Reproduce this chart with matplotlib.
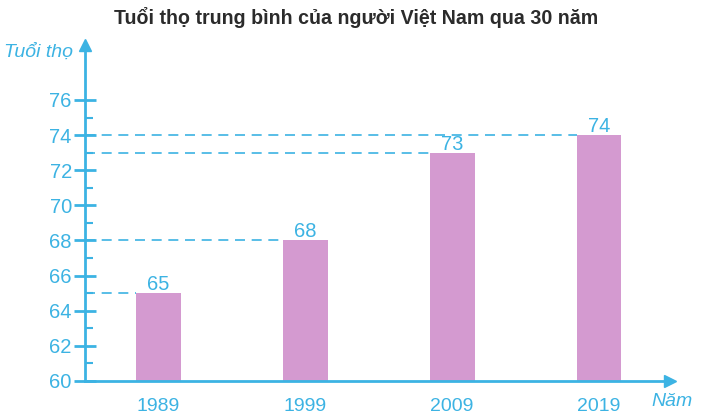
import numpy as np
import matplotlib.pyplot as plt

years = ["1989", "1999", "2009", "2019"]
life = [65, 68, 73, 74]
yticks_major = [60, 62, 64, 66, 68, 70, 72, 74, 76]

cyan = "#3cb3e3"
pink = "#d49ad0"

fig = plt.figure(figsize=(7.04, 4.18), dpi=100)
ax = fig.add_axes([85 / 704, 37 / 418, 585 / 704, 336 / 418])

x = np.arange(len(years))
bw = 0.306
ax.bar(x, life, width=bw, bottom=0, color=pink, zorder=2)
ax.set_xlim(-0.497, 3.483)
ax.set_ylim(60, 79.13)

# dashed guides from the axis to each bar
for xi, v in zip(x, life):
    ax.plot([-0.497, xi - bw / 2], [v, v], color=cyan, lw=1.2,
            dashes=(6, 4), zorder=1, clip_on=False)
    ax.text(xi, v - 0.05, str(v), color=cyan, ha="center", va="bottom",
            fontsize=14.5, family="Liberation Sans", zorder=3)

for s in ["top", "right"]:
    ax.spines[s].set_visible(False)
for s in ["left", "bottom"]:
    ax.spines[s].set_color(cyan)
    ax.spines[s].set_linewidth(2)

ax.set_yticks(yticks_major)
ax.set_yticks(np.arange(61, 77, 2), minor=True)
ax.tick_params(axis="y", which="major", direction="inout", length=16, width=2,
               color=cyan, labelcolor=cyan, labelsize=14.5, pad=1.5)
ax.tick_params(axis="y", which="minor", direction="in", length=6, width=1.5,
               color=cyan)
ax.set_xticks(x)
ax.set_xticklabels(years)
ax.tick_params(axis="x", length=0, labelcolor=cyan, labelsize=14, pad=12)
for lab in ax.get_xticklabels() + ax.get_yticklabels():
    lab.set_family("Liberation Sans")

# arrow heads
ax.plot([0], [1.0], marker="^", ms=9, color=cyan, transform=ax.transAxes,
        clip_on=False)
ax.plot([1.0], [0], marker=">", ms=9, color=cyan, transform=ax.transAxes,
        clip_on=False)

fig.text(38 / 704, 1 - 52 / 418, "Tuổi thọ", color=cyan, fontsize=14,
         style="italic", ha="center", va="center", family="Liberation Sans")
fig.text(672 / 704, 1 - 401 / 418, "Năm", color=cyan, fontsize=14,
         style="italic", ha="center", va="center", family="Liberation Sans")
fig.text(356 / 704, 1 - 18 / 418, "Tuổi thọ trung bình của người Việt Nam qua 30 năm",
         color="#2b2b2b", fontsize=14.1, fontweight="bold", ha="center",
         va="center", family="Liberation Sans")

fig.savefig("out.png", dpi=100)
